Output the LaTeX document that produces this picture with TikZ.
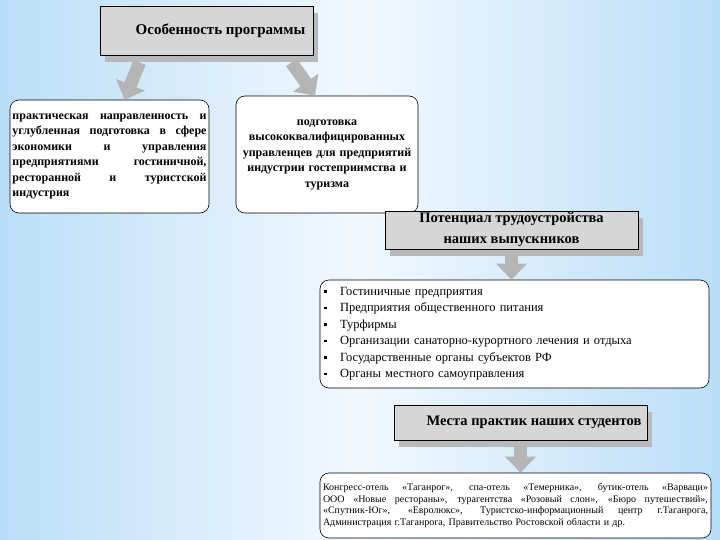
\documentclass[tikz,border=0pt]{standalone}
\usepackage{fontspec}
\setmainfont{Liberation Serif}
\usetikzlibrary{arrows.meta,shadows}
\definecolor{bgedge}{RGB}{186,222,247}
\definecolor{bgmid}{RGB}{242,249,254}
\definecolor{headgray}{RGB}{214,214,214}
\newcommand{\lstmark}{\makebox[16pt][l]{\raisebox{2.5pt}{\rule{2.5pt}{2.5pt}}}}
\newcommand{\fullline}[2]{\makebox[#1][s]{\spaceskip=0pt\xspaceskip=0pt\relax #2}}
\tikzset{
    headbox/.style={fill=headgray, draw=black, line width=0.8pt, inner sep=0pt, align=center,
        drop shadow={shadow xshift=5pt, shadow yshift=-7pt, fill=gray!55, opacity=1},
        font=\fontsize{14.5}{21}\selectfont\bfseries},
    infobox/.style={fill=white, draw=black, line width=0.6pt, rounded corners=9pt},
    blockarrow/.style={line width=13pt, gray!58, -{Triangle[width=30pt,length=16pt]}}
}
\begin{document}
\begin{tikzpicture}[x=1pt,y=-1pt]
            \useasboundingbox (0,0) rectangle (720,540);
            \shade[left color=bgedge, right color=bgmid] (0,0) rectangle (360,540);
            \shade[left color=bgmid, right color=bgedge] (360,0) rectangle (720,540);
            \node[headbox, minimum width=213pt, minimum height=49pt, font=\fontsize{15}{18}\selectfont\bfseries] (osob) at (206.5,30.5) {\hspace*{28pt}Особенность программы};
            \node[infobox, minimum width=199pt, minimum height=113pt, text width=194pt, inner sep=2.5pt, align=left,
                font=\fontsize{12}{15.5}\selectfont\bfseries] (prakt) at (109.5,156.5) {%
                \fullline{194pt}{практическая направленность и}\\
                \fullline{194pt}{углубленная подготовка в сфере}\\
                \fullline{194pt}{экономики и управления}\\
                \fullline{194pt}{предприятиями гостиничной,}\\
                \fullline{194pt}{ресторанной и туристской}\\
                индустрия};
            \node[infobox, minimum width=182pt, minimum height=117pt, text width=178pt, inner sep=2pt, align=center,
                font=\fontsize{12}{15.5}\selectfont\bfseries] (podg) at (327,154.5)
                {подготовка\\высококвалифицированных\\управленцев для предприятий\\индустрии гостеприимства и\\туризма};
            \node[headbox, minimum width=253pt, minimum height=38pt] (potenc) at (511.5,230) {Потенциал трудоустройства\\наших выпускников};
            \node[infobox, minimum width=389pt, minimum height=108pt, text width=381pt, inner sep=4pt, align=left,
                font=\fontsize{12.5}{16.5}\selectfont] (orgs) at (514.5,334) {%
                \lstmark Гостиничные предприятия\\
                \lstmark Предприятия общественного питания\\
                \lstmark Турфирмы\\
                \lstmark Организации санаторно-курортного лечения и отдыха\\
                \lstmark Государственные органы субъектов РФ\\
                \lstmark Органы местного самоуправления};
            \node[headbox, minimum width=253pt, minimum height=35pt] (mesta) at (520.5,422.5) {\hspace*{27pt}Места практик наших студентов};
            \node[infobox, minimum width=391pt, minimum height=65pt, text width=385pt, inner sep=3pt, align=left,
                font=\fontsize{10}{11.5}\selectfont] (baza) at (515.5,505.5) {%
                \fullline{385pt}{Конгресс-отель «Таганрог», спа-отель «Темерника», бутик-отель «Варваци»}\\
                \fullline{385pt}{ООО «Новые рестораны», турагентства «Розовый слон», «Бюро путешествий»,}\\
                \fullline{385pt}{«Спутник-Юг», «Евролюкс», Туристско-информационный центр г.Таганрога,}\\
                Администрация г.Таганрога, Правительство Ростовской области и др.};
            \draw[blockarrow] ([xshift=40pt, yshift=-7pt]osob.south west) -- ([xshift=15pt]prakt.north);
            \draw[blockarrow] ([xshift=-22pt, yshift=-7pt]osob.south east) -- ([xshift=-12pt]podg.north);
            \draw[blockarrow] ([yshift=-5pt]potenc.south) -- (potenc.south |- orgs.north);
            \draw[blockarrow] ([yshift=-5pt]mesta.south) -- (mesta.south |- baza.north);
\end{tikzpicture}
\end{document}
